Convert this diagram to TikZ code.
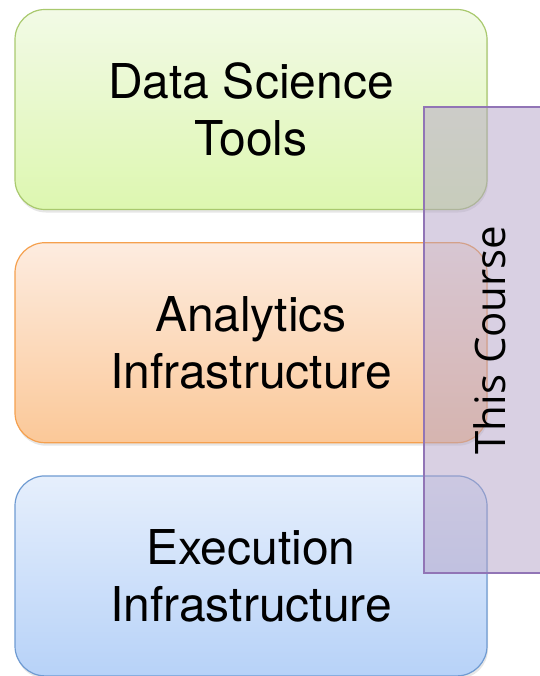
\documentclass[tikz,border=0pt]{standalone}
\usepackage{fontspec}
\setmainfont{TeX Gyre Heros}
\newfontfamily\coursefont{Open Sans}
\usetikzlibrary{positioning,shadows}

\definecolor{toolsline}{HTML}{A9C96E}
\definecolor{toolstop}{HTML}{F2FAE6}
\definecolor{toolsbot}{HTML}{DDF7B0}
\definecolor{analyticsline}{HTML}{F5A04E}
\definecolor{analyticstop}{HTML}{FDECE0}
\definecolor{analyticsbot}{HTML}{FBC898}
\definecolor{execline}{HTML}{6F9BD2}
\definecolor{exectop}{HTML}{E6EFFC}
\definecolor{execbot}{HTML}{B7D2F8}
\definecolor{courseline}{HTML}{9175B6}
\definecolor{coursefill}{HTML}{B3A2C7}

\tikzset{
  layer/.style={rounded corners=30pt, minimum width=472pt, minimum height=200pt,
    line width=1.2pt, align=center, font=\fontsize{48}{57}\selectfont,
    drop shadow={opacity=0.2, shadow xshift=1pt, shadow yshift=-3pt}},
}

\begin{document}
\begin{tikzpicture}[x=1pt,y=-1pt]
\useasboundingbox (0,0) rectangle (539,676);

\node[layer, draw=toolsline, top color=toolstop, bottom color=toolsbot] (tools) at (251,109.5) {Data Science\\Tools};
\node[layer, draw=analyticsline, top color=analyticstop, bottom color=analyticsbot, below=32pt of tools] (analytics) {Analytics\\Infrastructure};
\node[layer, draw=execline, top color=exectop, bottom color=execbot, below=32pt of analytics] (exec) {Execution\\Infrastructure};

% the course spans the upper two layers
\node[draw=courseline, fill=coursefill, fill opacity=0.5, text opacity=1, line width=1.2pt,
  rotate=90, minimum width=466pt, minimum height=132pt,
  font=\coursefont\fontsize{42}{50}\selectfont] (course) at (490,340) {This Course};
\end{tikzpicture}
\end{document}
